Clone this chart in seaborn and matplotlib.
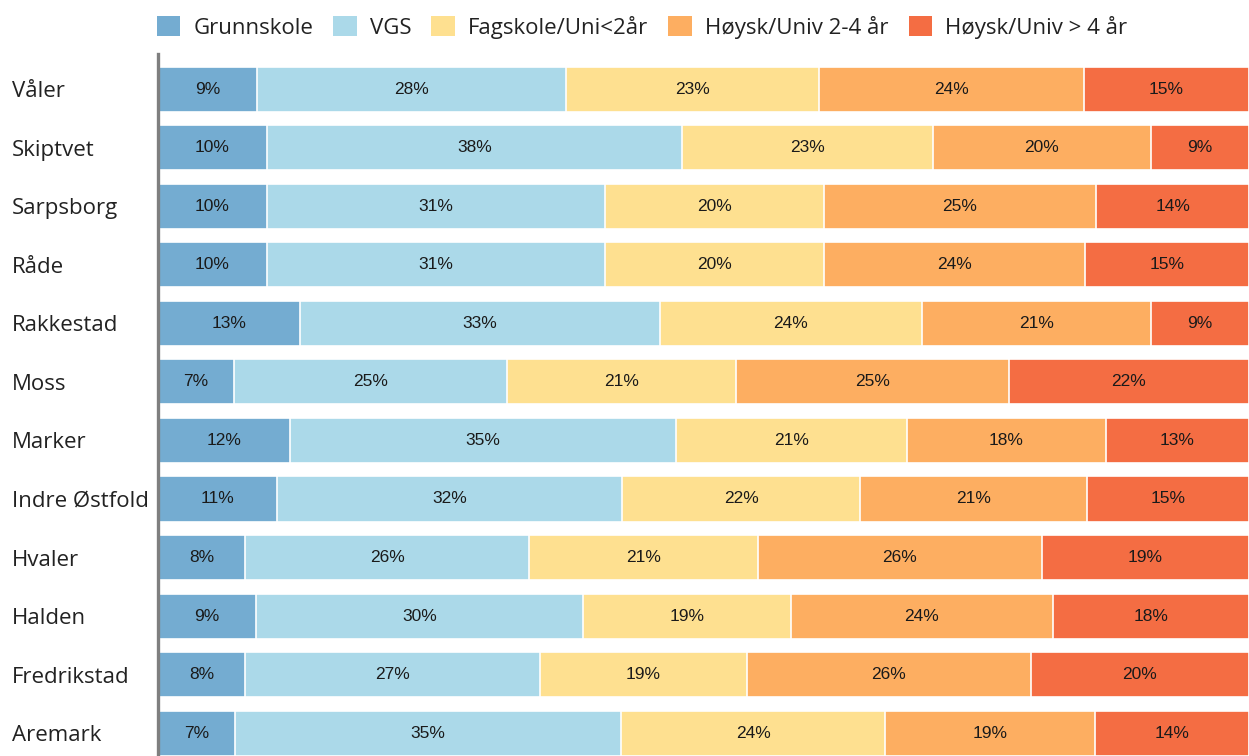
import matplotlib
matplotlib.use("Agg")
import matplotlib.pyplot as plt
from matplotlib.patches import Patch
import seaborn as sns
import pandas as pd

kommuner = ["Våler", "Skiptvet", "Sarpsborg", "Råde", "Rakkestad", "Moss",
            "Marker", "Indre Østfold", "Hvaler", "Halden", "Fredrikstad", "Aremark"]
nivaer = ["Grunnskole", "VGS", "Fagskole/Uni<2år", "Høysk/Univ 2-4 år", "Høysk/Univ > 4 år"]

grunnskole = [9, 10, 10, 10, 13, 7, 12, 11, 8, 9, 8, 7]
vgs = [28, 38, 31, 31, 33, 25, 35, 32, 26, 30, 27, 35]
fagskole = [23, 23, 20, 20, 24, 21, 21, 22, 21, 19, 19, 24]
hoysk_kort = [24, 20, 25, 24, 21, 25, 18, 21, 26, 24, 26, 19]
hoysk_lang = [15, 9, 14, 15, 9, 22, 13, 15, 19, 18, 20, 14]

farger = ["#74acd1", "#abd9e9", "#fee090", "#fdae61", "#f46d43"]

df = pd.DataFrame({"kommune": kommuner, "Grunnskole": grunnskole, "VGS": vgs,
                   "Fagskole/Uni<2år": fagskole, "Høysk/Univ 2-4 år": hoysk_kort,
                   "Høysk/Univ > 4 år": hoysk_lang})
andel = df[nivaer].div(df[nivaer].sum(axis=1), axis=0)
kum = andel.cumsum(axis=1)

sns.set_style("white")
fig = plt.figure(figsize=(12.49, 7.56), dpi=100)
ax = fig.add_axes([0.1265, 0.0, 0.8735, 0.9286])

# draw the cumulative totals from the widest down so each segment shows
for niva, farge in reversed(list(zip(nivaer, farger))):
    sns.barplot(x=kum[niva], y=df["kommune"], color=farge, orient="h", saturation=1,
                width=0.77, edgecolor="white", linewidth=1.2, ax=ax)

for i in range(len(df)):
    start = 0
    for niva in nivaer:
        w = andel.loc[i, niva]
        ax.text(start + w / 2, i, f"{df.loc[i, niva]}%", ha="center", va="center",
                fontsize=12.5, color="#1a1a1a", family="Liberation Sans")
        start += w

ax.set_xlim(0, 1)
ax.set_ylim(len(df) - 0.61, -0.6)
ax.set_xlabel("")
ax.set_ylabel("")
ax.set_xticks([])
ax.tick_params(axis="y", length=0, pad=105)
for lab in ax.get_yticklabels():
    lab.set_fontsize(16)
    lab.set_family("Open Sans")
    lab.set_color("#222222")
    lab.set_horizontalalignment("left")
for s in ["top", "right", "bottom"]:
    ax.spines[s].set_visible(False)
ax.spines["left"].set_color("#7f7f7f")
ax.spines["left"].set_linewidth(2.4)

handles = [Patch(facecolor=f, edgecolor="none", label=n) for n, f in zip(nivaer, farger)]
fig.legend(handles=handles, loc="center", bbox_to_anchor=(0.514, 0.964), ncol=5,
           frameon=False, handlelength=1.05, handleheight=1.05, handletextpad=0.6,
           columnspacing=0.9, prop={"family": "Open Sans", "size": 16}, labelcolor="#222222")

fig.savefig("out.png", dpi=100)
